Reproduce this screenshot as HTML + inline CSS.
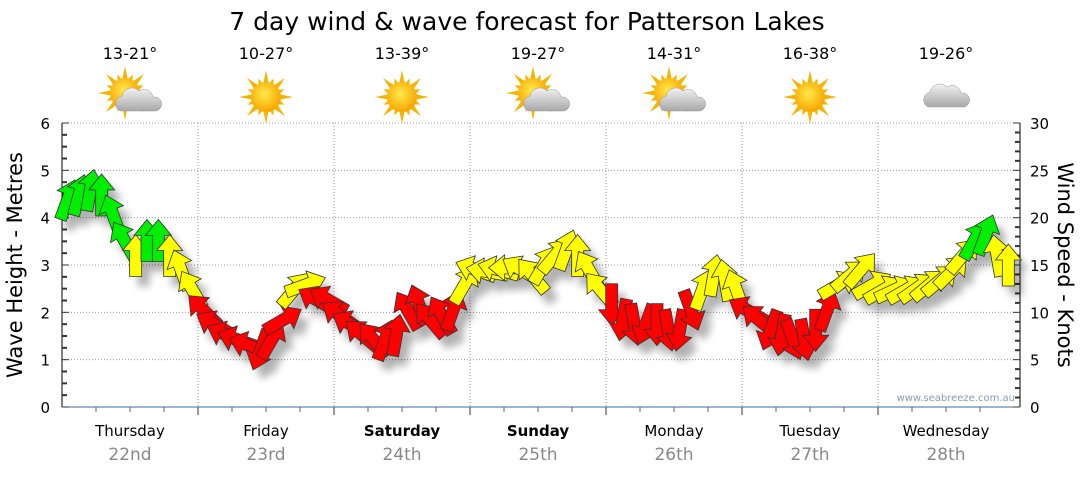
<!DOCTYPE html>
<html><head><meta charset="utf-8"><style>
body{margin:0;background:#fff;font-family:"Liberation Sans","DejaVu Sans",sans-serif}
svg text{font-family:"DejaVu Sans","Liberation Sans",sans-serif}
</style></head><body>
<svg id="c" width="1080" height="475" xmlns="http://www.w3.org/2000/svg">
<defs>
<radialGradient id="sun" cx="45%" cy="40%" r="60%"><stop offset="0" stop-color="#ffe94a"/><stop offset="1" stop-color="#f7a400"/></radialGradient>
<linearGradient id="cl" x1="0" y1="0" x2="0" y2="1"><stop offset="0" stop-color="#f2f2f2"/><stop offset="1" stop-color="#a8a8a8"/></linearGradient>
<filter id="sh" x="-50%" y="-50%" width="200%" height="200%"><feGaussianBlur stdDeviation="4"/></filter>
</defs>
<text x="527" y="30" font-size="25" text-anchor="middle">7 day wind &amp; wave forecast for Patterson Lakes</text>
<g id="grid"></g><g id="axes"></g><g id="icons"></g>
<g id="shadows" filter="url(#sh)" opacity="0.3"></g>
<g id="arrows"></g>
<text x="1015" y="401" font-size="10" fill="#8a9ab0" text-anchor="end">www.seabreeze.com.au</text>
<text transform="translate(22,265) rotate(-90)" font-size="21" text-anchor="middle">Wave Height - Metres</text>
<text transform="translate(1058,265) rotate(90)" font-size="21" text-anchor="middle">Wind Speed - Knots</text>
</svg>
<script>
const days=["Thursday","Friday","Saturday","Sunday","Monday","Tuesday","Wednesday"];
const dates=["22nd","23rd","24th","25th","26th","27th","28th"];
const temps=["13-21°","10-27°","13-39°","19-27°","14-31°","16-38°","19-26°"];
const weather=["partly","sun","sun","partly","partly","sun","cloud"];
const boldDays=[false,false,true,true,false,false,false];
const waveTicks=[0,1,2,3,4,5,6];
const windTicks=[0,5,10,15,20,25,30];
const windSpeed=[21.9,22.4,22.9,22.4,20.3,17.6,16,17.6,17.6,16,14.5,12.4,
10.2,8.7,7.6,7.1,6.5,6.0,7.1,9.2,12.4,12.9,11.3,11.3,
9.7,8.7,7.6,7.1,7.1,7.6,10.2,10.8,9.2,9.7,10.2,12.9,
14.5,14.3,14.5,14.7,14.5,13.9,15,16,16.6,16,14.5,12.4,
10.8,9.2,8.7,8.7,8.7,8.1,8.1,10.2,12.4,13.9,13.4,12.4,
10.2,9.2,8.1,7.6,7.1,7.1,8.1,10.2,12.9,13.9,14.5,12.9,
12.4,12.4,12.4,12.6,12.9,13.4,14.3,16,17.6,18.2,16,15];
const windDir=[20,15,10,0,340,330,0,0,0,0,340,330,
315,300,295,290,290,200,30,60,40,70,300,300,
305,300,310,320,20,10,330,340,320,330,20,30,
290,280,285,270,300,320,30,40,20,0,330,320,
180,190,170,200,180,170,190,160,20,10,350,340,
300,310,200,190,160,170,180,20,60,50,40,60,
60,65,60,55,50,50,45,40,30,20,350,360];
const c=document.getElementById('c');
const NS='http://www.w3.org/2000/svg';
const X0=62,X1=1020,Y0=407,Y1=123,DW=136,PTS=12;
const yWave=v=>Y0-(v/6)*(Y0-Y1);
const yWind=v=>Y0-(v/30)*(Y0-Y1);
const xIdx=i=>X0+(i+0.5)*DW/PTS;
function mk(tag,attrs,parent,txt){const e=document.createElementNS(NS,tag);for(const k in attrs)e.setAttribute(k,attrs[k]);if(txt!==undefined)e.textContent=txt;document.getElementById(parent).appendChild(e);return e;}
waveTicks.forEach(v=>{if(v>0){const l=mk('line',{x1:X0,x2:X1,y1:yWave(v),y2:yWave(v),stroke:'#999','stroke-dasharray':'1,2'},'grid');

}});
for(let d=1;d<7;d++){const l=mk('line',{x1:X0+d*DW,x2:X0+d*DW,y1:Y1,y2:Y0,stroke:'#999','stroke-dasharray':'1,2'},'grid');


mk('line',{x1:X0+d*DW,x2:X0+d*DW,y1:Y0,y2:Y0+8,stroke:'#333'},'axes');}
mk('line',{x1:X0,x2:X0,y1:Y1,y2:Y0,stroke:'#000'},'axes');
mk('line',{x1:X1,x2:X1,y1:Y1,y2:Y0,stroke:'#000'},'axes');
const xa=mk('line',{x1:X0,x2:X1,y1:Y0,y2:Y0,stroke:'#3a6ea5'},'axes');


for(let k=0;k<=24;k++){const y=Y0-k*(Y0-Y1)/24;mk('line',{x1:X0,x2:X0+(k%4==0?7:5),y1:y,y2:y,stroke:'#333','stroke-width':k%4==0?1:2},'axes');}
for(let k=0;k<=30;k++){const y=yWind(k);mk('line',{x1:X1,x2:X1-(k%5==0?7:5),y1:y,y2:y,stroke:'#333','stroke-width':k%5==0?1:2},'axes');}
waveTicks.forEach(v=>{const t=mk('text',{x:50,y:yWave(v)+6,'font-size':15,'text-anchor':'end'},'axes',v);

});
windTicks.forEach(v=>{const t=mk('text',{x:1030,y:yWind(v)+6,'font-size':15},'axes',v);

});
for(let d=0;d<7;d++){const cx=X0+d*DW+DW/2;
for(let h=1;h<4;h++)mk('line',{x1:X0+d*DW+h*DW/4,x2:X0+d*DW+h*DW/4,y1:Y0,y2:Y0+5,stroke:'#666'},'axes');
const t=mk('text',{x:cx,y:436,'font-size':15,'text-anchor':'middle','font-weight':boldDays[d]?'bold':'normal'},'axes',days[d]);


const t2=mk('text',{x:cx,y:460,'font-size':17,'text-anchor':'middle',fill:'#888'},'axes',dates[d]);


const t3=mk('text',{x:cx,y:59,'font-size':16,'text-anchor':'middle'},'icons',temps[d]);


const g=mk('g',{transform:`translate(${cx},97)`},'icons');


const w=weather[d];
if(w!=='cloud'){const sx=w==='partly'?-5:0,sy=w==='partly'?-4:0;
for(let r=0;r<16;r++){const a=r*Math.PI/8,L=r%2?20:27;const p=document.createElementNS(NS,'polygon');
const ax=Math.cos(a),ay=Math.sin(a),px=-ay,py=ax;
p.setAttribute('points',`${sx+ax*L},${sy+ay*L} ${sx+ax*12+px*3},${sy+ay*12+py*3} ${sx+ax*12-px*3},${sy+ay*12-py*3}`);p.setAttribute('fill','#f5b400');g.appendChild(p);}
const s=document.createElementNS(NS,'circle');s.setAttribute('cx',sx);s.setAttribute('cy',sy);s.setAttribute('r',15);s.setAttribute('fill','url(#sun)');g.appendChild(s);}
if(w!=='sun'){const ox=w==='partly'?8:0,oy=w==='partly'?4:0;const p=document.createElementNS(NS,'path');
p.setAttribute('d',`M${ox-18},${oy+10} a8,8 0 0 1 2,-15 a10,10 0 0 1 17,-5 a9,9 0 0 1 14,6 a7,7 0 0 1 3,14 z`);
p.setAttribute('fill','url(#cl)');p.setAttribute('stroke','#999');p.setAttribute('stroke-width','0.5');g.appendChild(p);}
}
const shape="M0,-21 L13,-5 L6,-5 L6,21 L-6,21 L-6,-5 L-13,-5 Z";
windSpeed.forEach((v,i)=>{const x=xIdx(i),y=yWind(v),r=windDir[i];
const col=v>=17?'#00ee00':(v>=12?'#ffff00':'#ff0000');
mk('path',{d:shape,transform:`translate(${x+8},${y+10}) rotate(${r})`,fill:'#000'},'shadows');
const a=mk('path',{d:shape,transform:`translate(${x},${y}) rotate(${r})`,fill:col,stroke:'#333','stroke-width':0.8},'arrows');


});
</script>
</body></html>
